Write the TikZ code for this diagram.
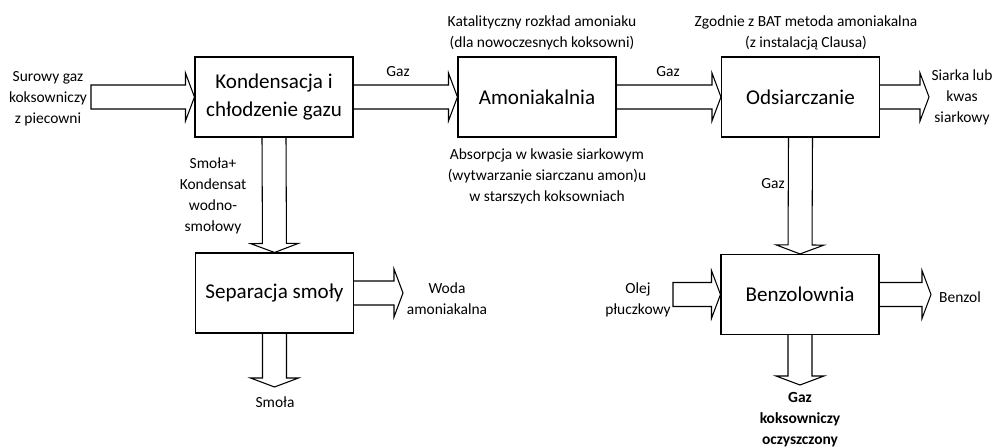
\documentclass[tikz,border=0pt]{standalone}
\usepackage{fontspec}
\setmainfont{Carlito}
\usetikzlibrary{calc}

\begin{document}
\begin{tikzpicture}[x=.75pt, y=-.75pt,
  every node/.style={font=\fontsize{11.6}{15.75}\selectfont, align=center, inner sep=0pt},
  unit/.style={draw, line width=.8pt, minimum width=118.5pt, minimum height=60pt,
    font=\fontsize{15.8}{21}\selectfont},
  flow/.style={line width=.8pt, to path={
    (\tikztostart) coordinate (fs) ($(\tikztotarget)!\HL!(\tikztostart)$) coordinate (fh)
    ($(fs)!\SW!90:(fh)$) -- ($(fh)!\SW!-90:(fs)$) -- ($(fh)!\HW!-90:(fs)$)
    -- (\tikztotarget) -- ($(fh)!\HW!90:(fs)$) -- ($(fh)!\SW!90:(fs)$)
    -- ($(fs)!\SW!-90:(fh)$) \tikztonodes}},
  feed/.style={line width=.8pt, to path={
    (\tikztostart) coordinate (fs) ($(\tikztotarget)!\HL!(\tikztostart)$) coordinate (fh)
    ($(fs)!\SW!90:(fh)$) -- ($(fh)!\SW!-90:(fs)$) -- ($(fh)!\HW!-90:(fs)$)
    -- (\tikztotarget) -- ($(fh)!\HW!90:(fs)$) -- ($(fh)!\SW!90:(fs)$)
    -- ($(fs)!\SW!-90:(fh)$) -- cycle \tikztonodes}}]

  \def\SW{9pt}   % half shaft
  \def\HW{18pt}  % half head
  \def\HL{6.75pt}

  \useasboundingbox (0,0) rectangle (992,448);

  % Units
  \node[unit] (kond) at (274,97) {Kondensacja i\\chłodzenie gazu};
  \node[unit] (amon) at (537,97) {Amoniakalnia};
  \node[unit] (odsi) at (800.5,97) {Odsiarczanie};
  \node[unit] (sep) at (274.5,293) {Separacja smoły};
  \node[unit] (benz) at (800,294.5) {Benzolownia};

  % Free ends
  \coordinate (rawin) at (91,97);
  \coordinate (sulfout) at (929,97);
  \coordinate (waterout) at (403,293);
  \coordinate (tarout) at (274.5,387);
  \coordinate (oilin) at (673,294.5);
  \coordinate (benzout) at (931,294.5);
  \coordinate (gasout) at (800,385);

  % Flows
  \draw[feed] (rawin) to (kond.west);
  \draw[flow] (kond.east) to (amon.west);
  \draw[flow] (amon.east) to (odsi.west);
  \draw[flow] (odsi.east) to (sulfout);
  \draw[flow] (kond.south) to (sep.north);
  \draw[flow] (sep.east) to (waterout);
  \draw[flow] (sep.south) to (tarout);
  \draw[flow] (odsi.south) to (benz.north);
  \draw[feed] (oilin) to (benz.west);
  \draw[flow] (benz.east) to (benzout);
  \draw[flow] (benz.south) to (gasout);

  % Labels
  \node (lraw) at (48,99) {Surowy gaz\\koksowniczy\\z piecowni};
  \node (lgas1) at (398,72) {Gaz};
  \node (lgas2) at (668,72) {Gaz};
  \node (lcat) at (542,33) {Katalityczny rozkład amoniaku\\(dla nowoczesnych koksowni)};
  \node (lbat) at (806,33) {Zgodnie z BAT metoda amoniakalna\\(z instalacją Clausa)};
  \node (labs) at (547,176) {Absorpcja w kwasie siarkowym\\(wytwarzanie siarczanu amon)u\\w starszych koksowniach};
  \node (lsulf) at (962,97) {Siarka lub\\kwas\\siarkowy};
  \node (lgas3) at (773,184) {Gaz};
  \node (ltar1) at (213,196) {Smoła+\\Kondensat\\wodno-\\smołowy};
  \node (lwater) at (447,299) {Woda\\amoniakalna};
  \node (ltar2) at (275,402) {Smoła};
  \node (loil) at (638,300) {Olej\\płuczkowy};
  \node (lbenz) at (960,297) {Benzol};
  \node[font=\fontsize{11.6}{15.75}\selectfont\bfseries] (lgas4) at (800,420)
    {Gaz\\koksowniczy\\oczyszczony};
\end{tikzpicture}
\end{document}
